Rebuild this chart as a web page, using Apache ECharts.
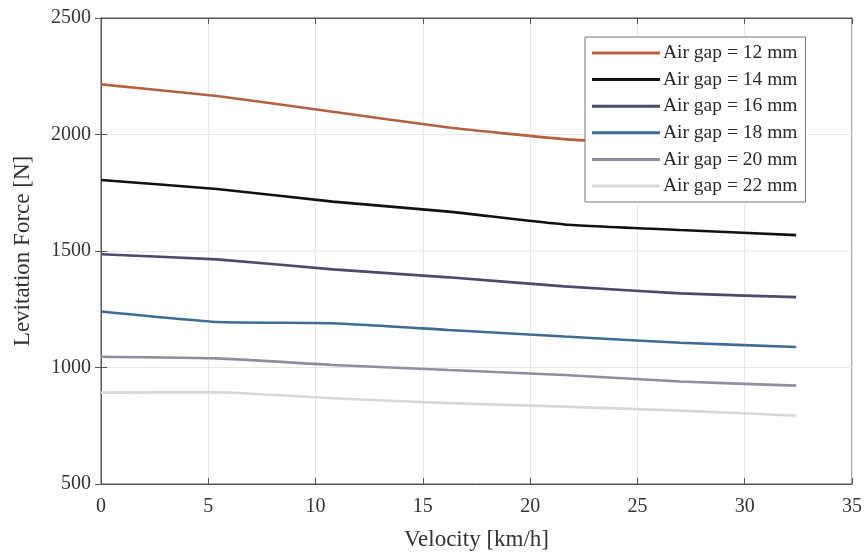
<!DOCTYPE html>
<html>
<head>
<meta charset="utf-8">
<script src="https://cdn.jsdelivr.net/npm/echarts@6/dist/echarts.min.js"></script>
<style>
  html, body { margin: 0; padding: 0; background: #fff; }
  #chart { width: 865px; height: 557px; }
</style>
</head>
<body>
<div id="chart"></div>
<script>
// velocity points (km/h)
const velocity = [0, 5.4, 10.8, 16.2, 21.6, 27, 32.4]

// levitation force per air gap (N)
const gap12 = [2215, 2165, 2098, 2030, 1980, 1955, 1935]
const gap14 = [1805, 1766, 1712, 1669, 1614, 1590, 1568]
const gap16 = [1486, 1464, 1421, 1387, 1348, 1318, 1302]
const gap18 = [1240, 1195, 1190, 1161, 1133, 1106, 1088]
const gap20 = [1046, 1039, 1011, 989, 968, 940, 922]
const gap22 = [892, 894, 868, 847, 832, 815, 793]

const seriesNames = ['Air gap = 12 mm', 'Air gap = 14 mm', 'Air gap = 16 mm',
  'Air gap = 18 mm', 'Air gap = 20 mm', 'Air gap = 22 mm']
const seriesData = [gap12, gap14, gap16, gap18, gap20, gap22]
const colors = ['#b5603e', '#111111', '#4a4a6e', '#3e6a94', '#8e8e9e', '#d6d6dc']

const xTicks = [0, 5, 10, 15, 20, 25, 30, 35]
const yTicks = [500, 1000, 1500, 2000, 2500]

const font = "'Liberation Serif', 'DejaVu Serif', serif"

const chart = echarts.init(document.getElementById('chart'))

const axisCommon = {
  axisLine: { show: true, lineStyle: { color: '#555', width: 1 } },
  axisTick: { show: true, inside: true, length: 6, lineStyle: { color: '#555' } }
}

chart.setOption({
  animation: false,
  textStyle: { fontFamily: font },
  grid: {
    left: 101, right: 13, top: 18, bottom: 73,
    show: true, borderColor: '#555', borderWidth: 1
  },
  legend: {
    data: seriesNames,
    orient: 'vertical',
    left: 585, top: 37,
    z: 20,
    backgroundColor: '#fff',
    borderColor: '#777', borderWidth: 1,
    padding: [6, 8, 6, 7],
    itemGap: 6.6,
    itemWidth: 68, itemHeight: 3,
    icon: 'rect',
    textStyle: { fontFamily: font, fontSize: 19.5, lineHeight: 19, color: '#2a2a2a', padding: [0, 0, 0, -2] }
  },
  xAxis: [{
    type: 'value', min: 0, max: 35, interval: 5,
    name: 'Velocity [km/h]', nameLocation: 'middle', nameGap: 44,
    nameTextStyle: { fontFamily: font, fontSize: 23, color: '#333' },
    ...axisCommon,
    axisLabel: { fontFamily: font, fontSize: 20, color: '#333', margin: 13,
      formatter: v => xTicks.includes(v) ? String(v) : '' },
    splitLine: { show: true, lineStyle: { color: '#e6e6e6' } }
  }, {
    type: 'value', min: 0, max: 35, interval: 5, position: 'top',
    ...axisCommon,
    axisLabel: { show: false }, splitLine: { show: false }
  }],
  yAxis: [{
    type: 'value', min: 500, max: 2500, interval: 500,
    name: 'Levitation Force [N]', nameLocation: 'middle', nameGap: 67,
    nameTextStyle: { fontFamily: font, fontSize: 23, color: '#333' },
    ...axisCommon,
    axisLabel: { fontFamily: font, fontSize: 20, color: '#333', margin: 10,
      formatter: v => yTicks.includes(v) ? String(v) : '' },
    splitLine: { show: true, lineStyle: { color: '#e6e6e6' } }
  }, {
    type: 'value', min: 500, max: 2500, interval: 500, position: 'right',
    ...axisCommon,
    axisLabel: { show: false }, splitLine: { show: false }
  }],
  series: seriesNames.map((name, i) => ({
    name: name,
    type: 'line',
    data: velocity.map((v, j) => [v, seriesData[i][j]]),
    symbol: 'none',
    smooth: 0.15,
    z: 2,
    itemStyle: { color: colors[i] },
    lineStyle: { color: colors[i], width: 2.6 }
  }))
})
</script>
</body>
</html>
